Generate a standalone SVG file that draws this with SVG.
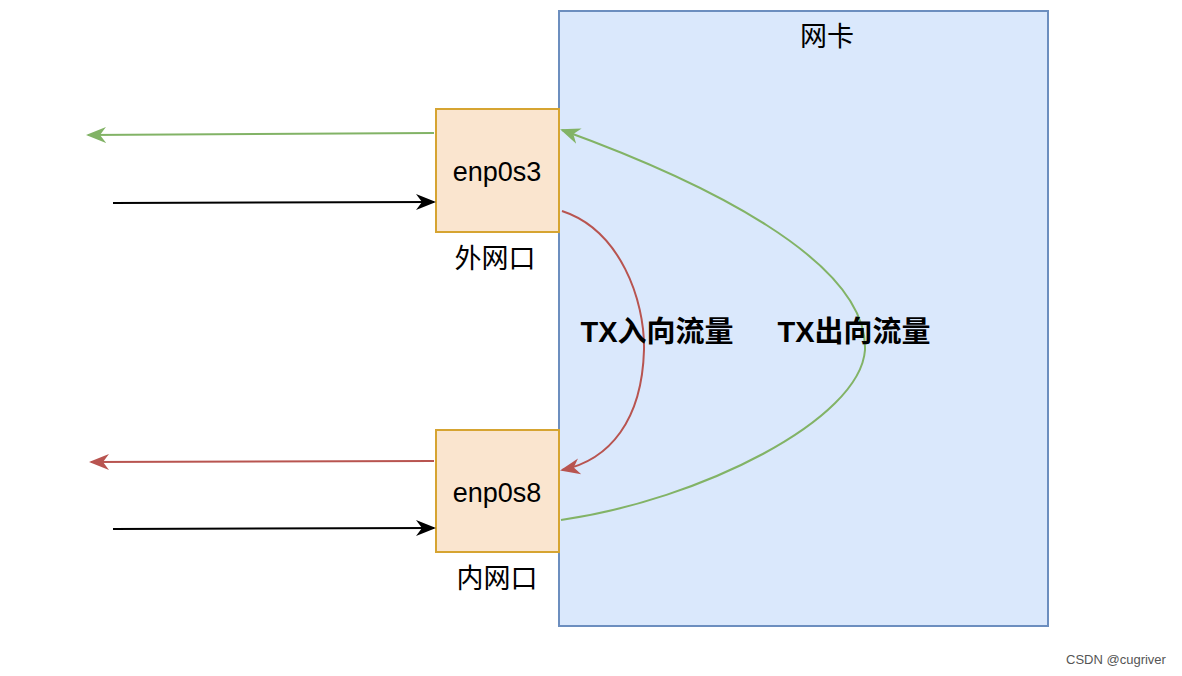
<svg xmlns="http://www.w3.org/2000/svg" width="1182" height="676" viewBox="0 0 1182 676">
<style>
.t{font-family:"Liberation Sans","Noto Sans CJK SC",sans-serif;fill:#000}
.port{fill:#fae5cf;stroke:#d6a431;stroke-width:2}
</style>
<defs>
<marker id="gA" markerWidth="22" markerHeight="22" refX="18" refY="11" orient="auto" markerUnits="userSpaceOnUse"><path d="M0,3 L20,11 L0,19 L6,11z" fill="#82b366"/></marker>
<marker id="rA" markerWidth="22" markerHeight="22" refX="18" refY="11" orient="auto" markerUnits="userSpaceOnUse"><path d="M0,3 L20,11 L0,19 L6,11z" fill="#b85450"/></marker>
<marker id="kA" markerWidth="22" markerHeight="22" refX="18" refY="11" orient="auto" markerUnits="userSpaceOnUse"><path d="M0,3 L20,11 L0,19 L6,11z" fill="#000"/></marker>
</defs>
<rect width="1182" height="676" fill="#fff"/>
<g id="nic"><rect x="559" y="11" width="489" height="615" fill="#dae8fc" stroke="#6c8ebf" stroke-width="2"/><text class="t" x="827" y="46" font-size="27" text-anchor="middle">网卡</text></g>
<g id="enp0s3"><rect class="port" x="436" y="109" width="123" height="123"/><text class="t" x="497" y="181" font-size="27" text-anchor="middle">enp0s3</text><text class="t" x="495" y="268" font-size="27" text-anchor="middle">外网口</text></g>
<g id="enp0s8"><rect class="port" x="436" y="430" width="123" height="122"/><text class="t" x="497" y="502" font-size="27" text-anchor="middle">enp0s8</text><text class="t" x="497" y="588" font-size="27" text-anchor="middle">内网口</text></g>
<g id="connectors" fill="none" stroke-width="2">
<path d="M434,133 L88,135" stroke="#82b366" marker-end="url(#gA)"/>
<path d="M113,203 L434,202" stroke="#000" marker-end="url(#kA)"/>
<path d="M434,461 L91,462" stroke="#b85450" marker-end="url(#rA)"/>
<path d="M113,529 L434,528" stroke="#000" marker-end="url(#kA)"/>
<path d="M562,211 C620,230 645,300 644,350 C642,420 610,460 562,470" stroke="#b85450" marker-end="url(#rA)"/>
<path d="M561,520 C700,500 860,420 865,350 C868,260 700,180 562,130" stroke="#82b366" marker-end="url(#gA)"/>
</g>
<text class="t" x="657" y="342" font-size="29" font-weight="bold" text-anchor="middle">TX入向流量</text>
<text class="t" x="854" y="342" font-size="29" font-weight="bold" text-anchor="middle">TX出向流量</text>
<text class="t" x="1116" y="664" font-size="13" text-anchor="middle" style="fill:#555">CSDN @cugriver</text>
</svg>
